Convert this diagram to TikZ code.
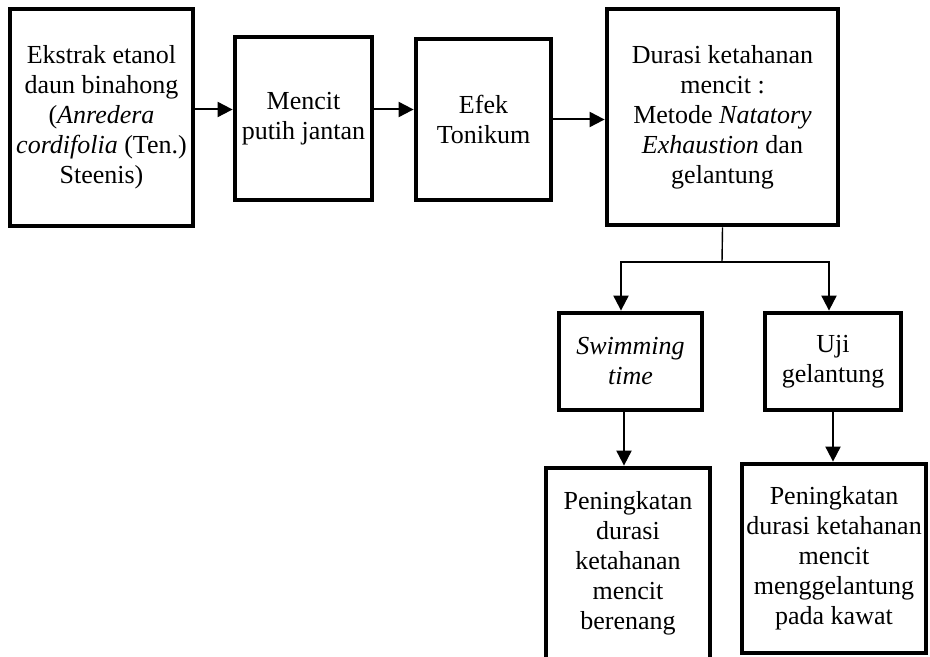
\documentclass[tikz,border=0pt]{standalone}
\usepackage{fontspec}
\setmainfont{Liberation Serif}
\usetikzlibrary{arrows.meta}

\tikzset{
	kotak/.style={shape=rectangle,draw=black,line width=2.4pt,align=center,inner sep=0pt,font=\fontsize{13}{15}\selectfont},
	panah/.style={-{Triangle[length=7.5pt,width=7.5pt]},line width=1pt},
}

\begin{document}
\begin{tikzpicture}[x=0.5pt,y=-0.5pt]
	
	\useasboundingbox (0,0) rectangle (930,657);
	
	\node[kotak,minimum width=91.5pt,minimum height=108.5pt] (ekstrak) at (101.5, 117.5) {Ekstrak etanol\\daun binahong\\(\textit{Anredera}\\\textit{cordifolia} (Ten.)\\Steenis)};
	\node[kotak,minimum width=68.5pt,minimum height=81.5pt]  (mencit)  at (303.5, 118.5) {Mencit\\putih jantan};
	\node[kotak,minimum width=67.5pt,minimum height=80.5pt]  (efek)    at (483.5, 119.5) {Efek\\Tonikum};
	\node[kotak,minimum width=115.5pt,minimum height=108pt]  (durasi)  at (722.5, 117)   {Durasi ketahanan\\mencit :\\Metode \textit{Natatory}\\\textit{Exhaustion} dan\\gelantung};
	\node[kotak,minimum width=71.5pt,minimum height=48.5pt]  (swim)    at (630.5, 361.5) {\textit{Swimming}\\\textit{time}};
	\node[kotak,minimum width=68pt,minimum height=48.5pt]    (uji)     at (833, 361.5)   {Uji\\gelantung};
	\node[kotak,minimum width=82pt,minimum height=95.5pt]    (renang)  at (628, 563.5)   {Peningkatan\\durasi\\ketahanan\\mencit\\berenang};
	\node[kotak,minimum width=92pt,minimum height=94.5pt]    (kawat)   at (834, 558.5)   {Peningkatan\\durasi ketahanan\\mencit\\menggelantung\\pada kawat};
	
	\coordinate (cabang) at (722, 262);
	
	\path[panah] ([yshift=4pt]ekstrak.east) edge ([yshift=4pt]ekstrak.east -| mencit.west);
	\path[panah] ([yshift=4.5pt]mencit.east) edge ([yshift=4.5pt]mencit.east -| efek.west);
	\path[panah] (efek.east) edge (efek.east -| durasi.west);
	\path[-, line width=0.7pt] (durasi.south) edge (cabang);
	\draw[panah] (cabang) -| ([xshift=-4.75pt]swim.north);
	\draw[panah] (cabang) -| ([xshift=-2pt]uji.north);
	\path[panah] ([xshift=-3.25pt]swim.south) edge ([xshift=-3.25pt]swim.south |- renang.north);
	\path[panah] (uji.south) edge (uji.south |- kawat.north);
	
\end{tikzpicture}
\end{document}
